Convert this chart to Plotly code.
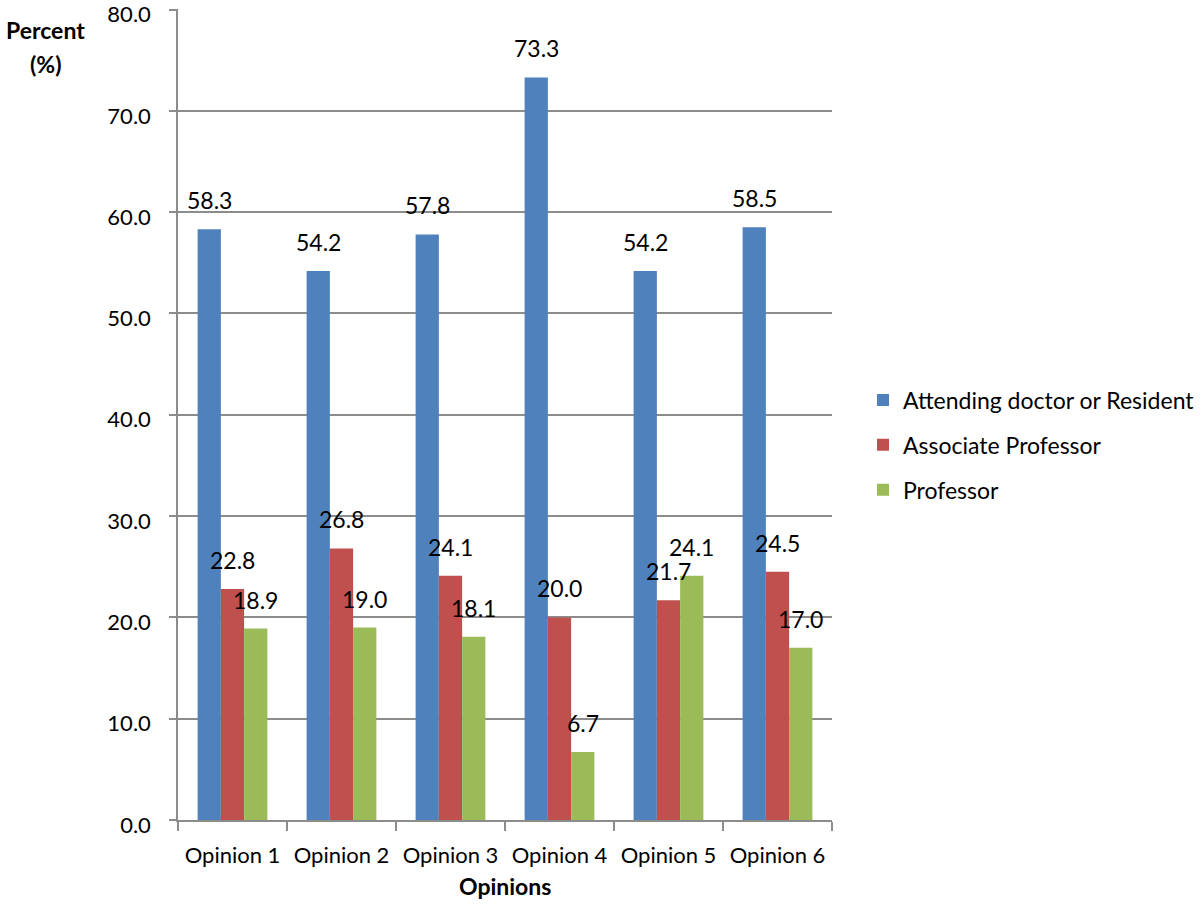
import plotly.graph_objects as go

categories = ["Opinion 1", "Opinion 2", "Opinion 3", "Opinion 4", "Opinion 5", "Opinion 6"]
attending = [58.3, 54.2, 57.8, 73.3, 54.2, 58.5]
associate = [22.8, 26.8, 24.1, 20.0, 21.7, 24.5]
professor = [18.9, 19.0, 18.1, 6.7, 24.1, 17.0]
series_names = ["Attending doctor or Resident", "Associate Professor", "Professor"]
colors = ["#4F81BD", "#C0504D", "#9BBB59"]
y_ticks = [0, 10, 20, 30, 40, 50, 60, 70, 80]

FONT = "Lato"
FS_TICK = 22
FS_LAB = 23
FS_LEG = 23
FS_TITLE = 23

ML, MR, MT, MB = 178, 368, 9, 85
W, H = 1200, 905
plot_w = W - ML - MR
plot_h = H - MT - MB
BARGAP = 0.36
bar_w = plot_w / len(categories) * (1 - BARGAP) / 3

fig = go.Figure()
all_vals = [attending, associate, professor]
for i, (name, vals, col) in enumerate(zip(series_names, all_vals, colors)):
    fig.add_trace(go.Bar(
        x=categories, y=vals, name=name, marker=dict(color=col, line=dict(width=0)),
        legendgroup=f"g{i}",
    ))
    for c, v in zip(categories, vals):
        fig.add_annotation(x=c, y=v, xref="x", yref="y", text=f"{v:.1f}",
                           showarrow=False, yanchor="bottom", yshift=13,
                           xshift=(i - 1) * bar_w,
                           font=dict(family=FONT, size=FS_LAB, color="black"))

fig.update_layout(
    width=W, height=H,
    paper_bgcolor="white", plot_bgcolor="white",
    margin=dict(l=ML, r=MR, t=MT, b=MB, autoexpand=False),
    barmode="group", bargap=BARGAP, bargroupgap=0,
    font=dict(family=FONT, size=FS_TICK, color="black"),
    legend=dict(x=(863 - ML) / plot_w, xanchor="left",
                y=1 - (445 - MT) / plot_h, yanchor="middle",
                font=dict(family=FONT, size=FS_LEG, color="black"),
                traceorder="grouped", tracegroupgap=12, itemwidth=30,
                bgcolor="rgba(0,0,0,0)"),
    showlegend=True,
)
fig.update_xaxes(
    showline=True, linecolor="#8C8C8C", linewidth=1.5,
    ticks="outside", tickson="boundaries", ticklen=9, tickcolor="#8C8C8C", tickwidth=1.5,
    tickfont=dict(family=FONT, size=FS_TICK, color="black"),
    ticklabelstandoff=15, automargin=False,
    showgrid=False,
)
fig.update_yaxes(
    range=[0, 80.05], tickvals=y_ticks, tickformat=".1f",
    showline=True, linecolor="#8C8C8C", linewidth=1.5,
    ticks="outside", ticklen=7, tickcolor="#8C8C8C", tickwidth=1.5,
    showgrid=True, gridcolor="#8C8C8C", gridwidth=1.5,
    tickfont=dict(family=FONT, size=FS_TICK, color="black"),
    ticklabelstandoff=14, ticklabelshift=5, ticklabeloverflow="allow", automargin=False,
    zeroline=False,
)
fig.add_annotation(x=(45 - ML) / plot_w, y=1 - (30 - MT) / plot_h, xref="paper", yref="paper",
                   xanchor="center", yanchor="middle",
                   text="<b>Percent</b>", showarrow=False,
                   font=dict(family=FONT, size=FS_TITLE, color="black"))
fig.add_annotation(x=(45 - ML) / plot_w, y=1 - (64 - MT) / plot_h, xref="paper", yref="paper",
                   xanchor="center", yanchor="middle",
                   text="<b>(%)</b>", showarrow=False,
                   font=dict(family=FONT, size=FS_TITLE, color="black"))
fig.add_annotation(x=(505 - ML) / plot_w, y=-(886 - (H - MB)) / plot_h, xref="paper", yref="paper",
                   xanchor="center", yanchor="middle",
                   text="<b>Opinions</b>", showarrow=False,
                   font=dict(family=FONT, size=FS_TITLE, color="black"))

fig.write_html("out.html", config={"displayModeBar": False},
               post_script="document.body.style.margin='0';")
